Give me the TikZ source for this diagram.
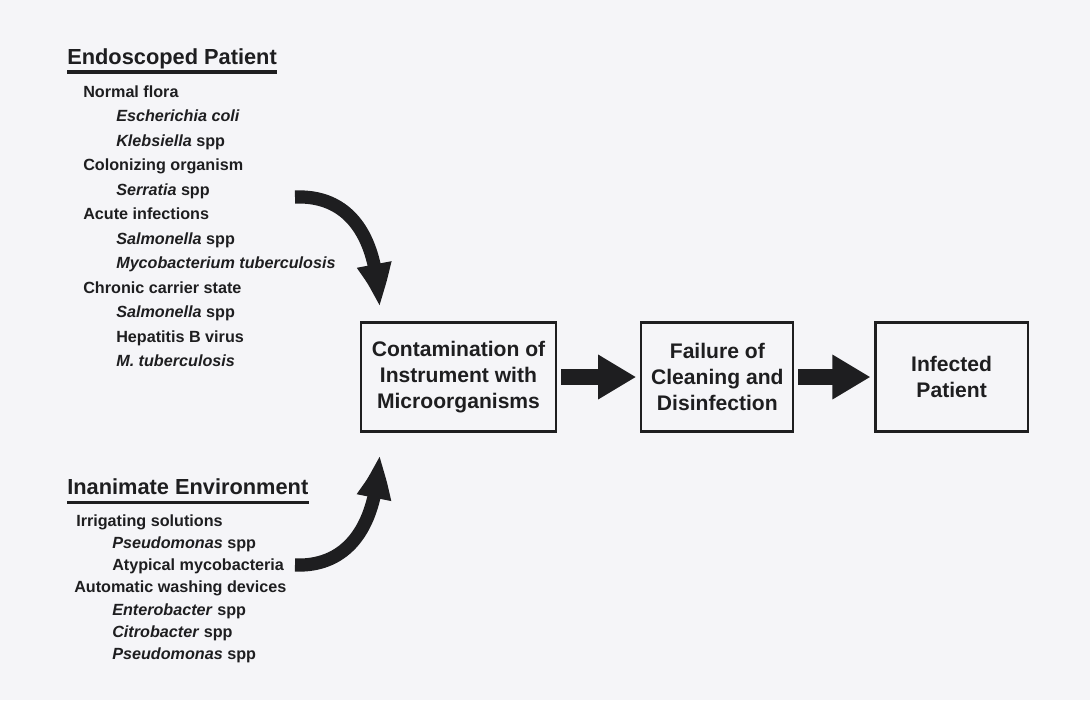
\documentclass[tikz,border=0pt]{standalone}
\usepackage{fontspec}
\setmainfont{Liberation Sans}
\usepackage{tikz}
\usetikzlibrary{positioning,arrows.meta,bending}
\usepackage{xcolor}
\definecolor{ink}{RGB}{30,30,32}
\definecolor{paper}{RGB}{245,245,248}

\begin{document}
\begin{tikzpicture}[x=0.025cm, y=-0.025cm, node distance=2cm, ink, text=ink,
    box/.style={draw, line width=1.6pt, inner sep=0pt, align=center, minimum height=2.72cm, font=\fontsize{15}{18.5}\selectfont\bfseries},
    heading/.style={inner sep=0pt, anchor=base west, font=\fontsize{15.5}{18}\selectfont\bfseries},
    entry/.style={inner sep=0pt, anchor=base west, font=\fontsize{11.5}{14}\selectfont\bfseries},
    fat/.style={line width=0.38cm, -{Triangle[length=0.95cm, width=1.05cm]}, shorten <=0.1cm, shorten >=0.1cm},
    curv/.style={line width=0.33cm, -{Triangle[length=1.2cm, width=0.75cm, bend]}}]
    % paper
    \fill[paper] (0,0) rectangle (1090,700);

    % chain of boxes
    \node[box, minimum width=4.875cm] (contam) at (458.5,377) {Contamination of\\Instrument with\\Microorganisms};
    \node[box, minimum width=3.8cm, right=2.075cm of contam] (failure) {Failure of\\Cleaning and\\Disinfection};
    \draw[fat] (contam) -- (failure);
    \node[box, minimum width=3.8cm, right=2cm of failure] (infected) {Infected\\Patient};
    \draw[fat] (failure) -- (infected);

    % endoscoped patient
    \node[heading] (endo) at (67,64) {Endoscoped Patient};
    \draw[line width=2.2pt] ([yshift=-0.2cm]endo.base west) -- ([yshift=-0.2cm]endo.base east);
    \foreach \txt/\ind [count=\i from 0] in {
        {Normal flora}/83,
        {\textit{Escherichia coli}}/116,
        {\textit{Klebsiella} spp}/116,
        {Colonizing organism}/83,
        {\textit{Serratia} spp}/116,
        {Acute infections}/83,
        {\textit{Salmonella} spp}/116,
        {\textit{Mycobacterium tuberculosis}}/116,
        {Chronic carrier state}/83,
        {\textit{Salmonella} spp}/116,
        {Hepatitis B virus}/116,
        {\textit{M. tuberculosis}}/116}
        \node[entry] (endo\i) at (\ind,{97+24.5*\i}) {\txt};

    % inanimate environment
    \node[heading] (inan) at (67,494) {Inanimate Environment};
    \draw[line width=2.2pt] ([yshift=-0.21cm]inan.base west) -- ([yshift=-0.21cm]inan.base east);
    \foreach \txt/\ind [count=\i from 0] in {
        {Irrigating solutions}/76,
        {\textit{Pseudomonas} spp}/112,
        {Atypical mycobacteria}/112,
        {Automatic washing devices}/74,
        {\textit{Enterobacter} spp}/112,
        {\textit{Citrobacter} spp}/112,
        {\textit{Pseudomonas} spp}/112}
        \node[entry] (inan\i) at (\ind,{526+22.3*\i}) {\txt};

    % curved arrows into the first box
    \coordinate (srcA) at (295,197);
    \coordinate (inA) at ([xshift=0.475cm, yshift=0.3cm]contam.north west);
    \draw[curv] (srcA) .. controls (345,195) and (378,230) .. (inA);
    \coordinate (srcB) at (295,565);
    \coordinate (inB) at ([xshift=0.475cm, yshift=-0.5cm]contam.south west);
    \draw[curv] (srcB) .. controls (345,567) and (378,530) .. (inB);
\end{tikzpicture}
\end{document}
